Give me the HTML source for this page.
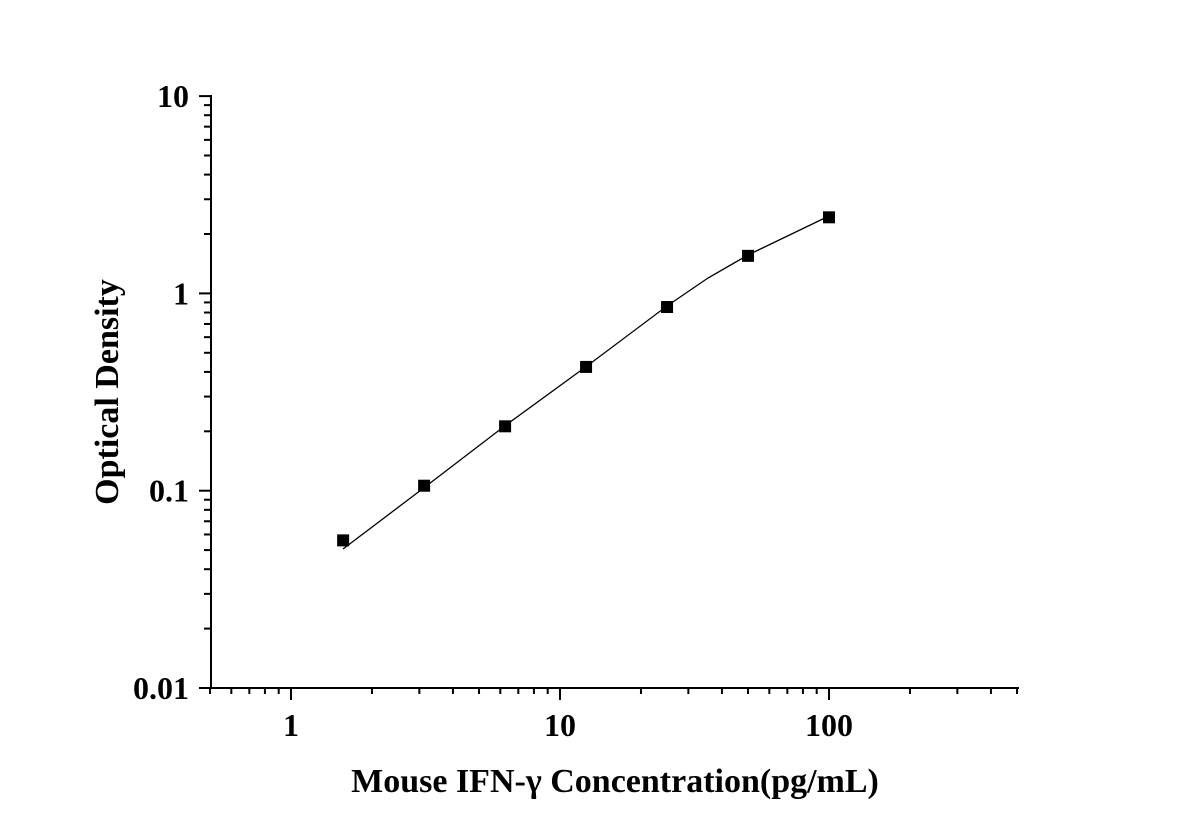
<!DOCTYPE html>
<html><head><meta charset="utf-8"><style>
html,body{margin:0;padding:0;background:#fff;}
svg text{font-family:"Liberation Serif",serif;font-weight:bold;fill:#000;}
</style></head><body>
<svg id="s" width="1181" height="825" xmlns="http://www.w3.org/2000/svg"></svg>
<script>
const s=document.getElementById('s');
const X0=291,DX=269,Y0=688,DY=197.3;
const fx=v=>X0+DX*Math.log10(v);
const fy=v=>Y0-DY*(Math.log10(v)+2);
let h='';
const L=(a,b,c,d,w)=>h+=`<line x1="${a}" y1="${b}" x2="${c}" y2="${d}" stroke="#000" stroke-width="${w}"/>`;
L(211,95,211,689,2);L(210,688,1019,688,2);
for(let e=-2;e<=1;e++){const y=fy(Math.pow(10,e));L(199,y,211,y,2);
 if(e<1)for(let m=2;m<=9;m++){const yy=fy(m*Math.pow(10,e));L(204,yy,211,yy,2);}}
[['10',10],['1',1],['0.1',0.1],['0.01',0.01]].forEach(([t,v])=>h+=`<text x="189" y="${fy(v)+11}" font-size="32" text-anchor="end">${t}</text>`);
for(let e=-1;e<=2;e++){for(let m=1;m<=9;m++){const v=m*Math.pow(10,e);if(v<0.5||v>500)continue;const x=fx(v);
 if(m==1)L(x,688,x,700,2);else L(x,688,x,694,2);}}
[['1',1],['10',10],['100',100]].forEach(([t,v])=>h+=`<text x="${fx(v)}" y="736" font-size="32" text-anchor="middle">${t}</text>`);
h+=`<polyline fill="none" stroke="#000" stroke-width="1.3" points="343,549 425,487 506,425 587,366 667,306 708,278 748,255 829,216"/>`;
[[1.5625,0.056],[3.125,0.106],[6.25,0.212],[12.5,0.424],[25,0.853],[50,1.55],[100,2.43]].forEach(([a,b])=>{const x=fx(a),y=fy(b);h+=`<rect x="${x-6}" y="${y-6}" width="12" height="12" fill="#000"/>`;});
h+=`<text x="615" y="792" font-size="34" text-anchor="middle">Mouse IFN-γ Concentration(pg/mL)</text>`;
h+=`<text transform="translate(118,392) rotate(-90)" font-size="34" text-anchor="middle">Optical Density</text>`;
s.innerHTML=h;
</script>
</body></html>
